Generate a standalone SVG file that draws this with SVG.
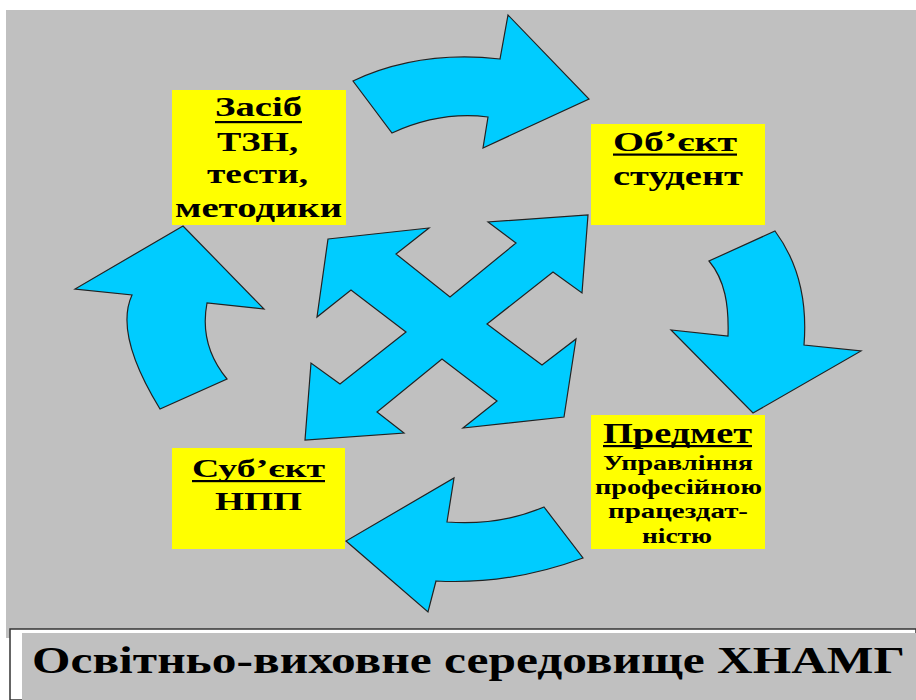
<svg xmlns="http://www.w3.org/2000/svg" width="916" height="700" viewBox="0 0 916 700">
<style>
.arr{fill:#00CCFF;stroke:#222;stroke-width:1.2;stroke-linejoin:miter}
.box{fill:#FFFF00}
.t{font-family:"Liberation Serif","Times New Roman",serif;font-weight:bold;fill:#000;text-anchor:start}
.ul{fill:#000}
</style>
<rect x="0" y="0" width="916" height="700" fill="#FFFFFF"/>
<rect x="6" y="10" width="910" height="628" fill="#C0C0C0"/>
<rect x="10" y="629" width="906" height="71" fill="#FFFFFF" stroke="#333" stroke-width="1.5"/>
<rect x="22" y="633" width="894" height="67" fill="#C0C0C0"/>
<text class="t" x="32" y="673" font-size="38" textLength="873" lengthAdjust="spacingAndGlyphs">Освітньо-виховне середовище ХНАМГ</text>

<g id="connectors">
<path class="arr" d="M353,81 Q419,50 500,59 L508,15 L589,99 L483,148 L488,117 Q440,111 392,133 Z"/>
<path class="arr" d="M775,231 C795,258 808,295 804,345 L861,351 L753,413 L671,330 L728,336 C729,305 725,280 709,261 Z"/>
<path class="arr" d="M544,507 L583,558 Q510,585 436,581 L428,612 L346,541 L454,478 L447,522 Q499,526 544,507 Z"/>
<path class="arr" d="M183,226 L264,309 L207,303 Q199,345 227,379 L160,409 Q114,334 132,295 L75,289 Z"/>
<polygon class="arr" points="328,239 429,228 396,254 450,297 516,243 488,222 588,215 582,293 553,272 487,324 542,365 576,339 564,417 463,428 497,401 442,359 377,412 404,433 305,440 311,363 340,384 406,332 351,290 317,317"/>
</g>

<g id="node-zasib">
<rect class="box" x="172" y="90" width="174" height="135"/>
<text class="t" x="215" y="116" font-size="27" textLength="87" lengthAdjust="spacingAndGlyphs">Засіб</text>
<rect class="ul" x="215" y="121" width="87" height="2.2"/>
<text class="t" x="217" y="151" font-size="27" textLength="81" lengthAdjust="spacingAndGlyphs">ТЗН,</text>
<text class="t" x="207" y="183" font-size="27" textLength="101" lengthAdjust="spacingAndGlyphs">тести,</text>
<text class="t" x="175" y="217" font-size="27" textLength="167" lengthAdjust="spacingAndGlyphs">методики</text>
</g>

<g id="node-obiekt">
<rect class="box" x="591" y="124" width="174" height="101"/>
<text class="t" x="613" y="151" font-size="27" textLength="124" lengthAdjust="spacingAndGlyphs">Об’єкт</text>
<rect class="ul" x="613" y="153.5" width="124" height="2.2"/>
<text class="t" x="613" y="185" font-size="27" textLength="130" lengthAdjust="spacingAndGlyphs">студент</text>
</g>

<g id="node-predmet">
<rect class="box" x="591" y="415" width="174" height="134"/>
<text class="t" x="603" y="443" font-size="30" textLength="149" lengthAdjust="spacingAndGlyphs">Предмет</text>
<rect class="ul" x="603" y="445" width="149" height="2.2"/>
<text class="t" x="603" y="470" font-size="22" textLength="150" lengthAdjust="spacingAndGlyphs">Управління</text>
<text class="t" x="595" y="494" font-size="22" textLength="167" lengthAdjust="spacingAndGlyphs">професійною</text>
<text class="t" x="608" y="518" font-size="22" textLength="140" lengthAdjust="spacingAndGlyphs">працездат-</text>
<text class="t" x="642" y="543" font-size="22" textLength="70" lengthAdjust="spacingAndGlyphs">ністю</text>
</g>

<g id="node-subiekt">
<rect class="box" x="172" y="448" width="173" height="101"/>
<text class="t" x="192" y="477" font-size="26" textLength="133" lengthAdjust="spacingAndGlyphs">Суб’єкт</text>
<rect class="ul" x="192" y="480" width="133" height="2.2"/>
<text class="t" x="215" y="510" font-size="26" textLength="87" lengthAdjust="spacingAndGlyphs">НПП</text>
</g>
</svg>
